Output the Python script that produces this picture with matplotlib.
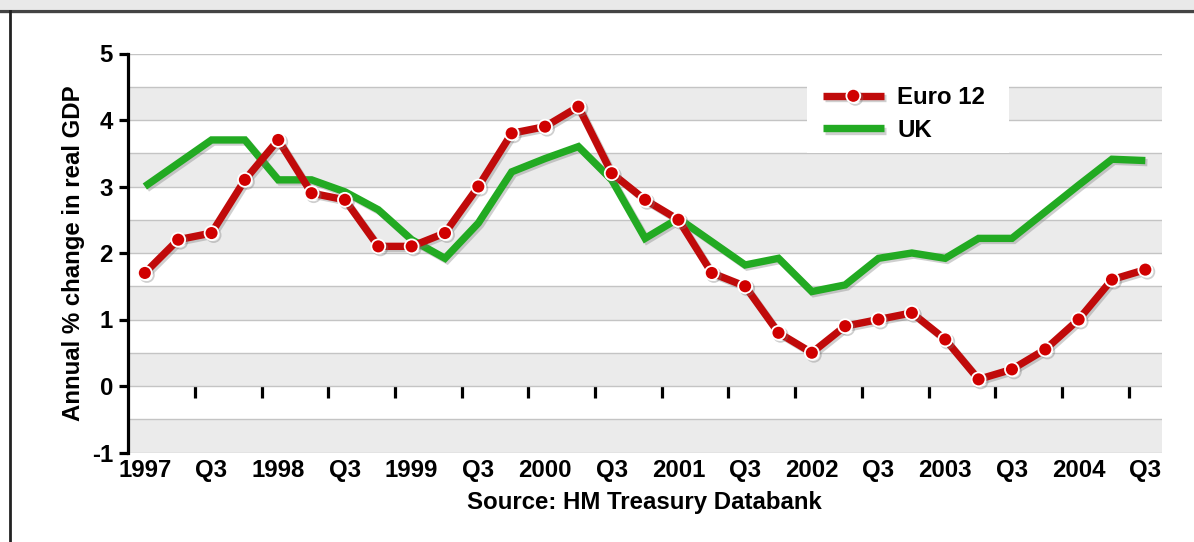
import numpy as np
import matplotlib
matplotlib.use("Agg")
import matplotlib.pyplot as plt
from matplotlib.patches import Rectangle
from matplotlib.lines import Line2D
import matplotlib.patheffects as pe

# ---------------- data ----------------
years = [1997, 1998, 1999, 2000, 2001, 2002, 2003, 2004]
periods = [f"{y} Q{q}" for y in years for q in (1, 2, 3, 4)][:31]   # 1997 Q1 .. 2004 Q3

euro12 = [1.7, 2.2, 2.3, 3.1,
          3.7, 2.9, 2.8, 2.1,
          2.1, 2.3, 3.0, 3.8,
          3.9, 4.2, 3.2, 2.8,
          2.5, 1.7, 1.5, 0.8,
          0.5, 0.9, 1.0, 1.1,
          0.7, 0.1, 0.25, 0.55,
          1.0, 1.6, 1.75]

uk = [3.0, 3.35, 3.7, 3.7,
      3.1, 3.1, 2.92, 2.65,
      2.2, 1.92, 2.45, 3.22,
      3.42, 3.6, 3.1, 2.22,
      2.52, 2.17, 1.82, 1.92,
      1.42, 1.52, 1.92, 2.0,
      1.92, 2.22, 2.22, 2.62,
      3.02, 3.41, 3.39]

tick_labels = ["1997", "Q3", "1998", "Q3", "1999", "Q3", "2000", "Q3",
               "2001", "Q3", "2002", "Q3", "2003", "Q3", "2004", "Q3"]

series_names = ["Euro 12", "UK"]

# ---------------- style ----------------
RED = "#c00a0a"
RED_MK = "#d00000"
GREEN = "#22aa22"
BAND = "#ebebeb"
GRID = "#c4c4c4"
FONT = "Liberation Sans"
FS = 17.3

plt.rcParams["font.family"] = [FONT, "DejaVu Sans"]
plt.rcParams["font.weight"] = "bold"
plt.rcParams["axes.unicode_minus"] = False

W, H = 1194, 542
fig = plt.figure(figsize=(W / 100, H / 100), dpi=100)
fig.patch.set_facecolor("white")

# axes placement (pixels -> figure fraction)
left_px, right_px, top_px, bot_px = 127.5, 1162, 53.5, 452.5
ax = fig.add_axes([left_px / W, 1 - bot_px / H, (right_px - left_px) / W, (bot_px - top_px) / H])

x = np.arange(len(periods))
ax.set_xlim(-0.52, len(periods) - 0.5)
ax.set_ylim(-1, 5)

# alternating horizontal bands
for lo in np.arange(-1, 5, 1.0):
    ax.axhspan(lo, lo + 0.5, facecolor=BAND, edgecolor="none", zorder=0)

ax.set_axisbelow(True)
ax.set_yticks(np.arange(-1, 6, 1))
ax.set_yticks(np.arange(-1, 5.01, 0.5), minor=True)
ax.grid(which="both", axis="y", color=GRID, lw=1.0)
ax.grid(which="both", axis="x", visible=False)

# legend background box
ax.add_patch(Rectangle((0.657, 0.751), 0.195, 0.21, transform=ax.transAxes,
                       facecolor="white", edgecolor="none", zorder=1))

shadow = [pe.SimpleLineShadow(offset=(1.5, -1.5), shadow_color="#777777", alpha=0.35),
          pe.Normal()]

ax.plot(x, uk, color=GREEN, lw=5.3, solid_joinstyle="miter", solid_capstyle="butt",
        zorder=3, label=series_names[1], path_effects=shadow)
ax.plot(x, euro12, color=RED, lw=5.3, solid_joinstyle="miter", solid_capstyle="butt",
        marker="o", markersize=10, markerfacecolor=RED_MK, markeredgecolor="white",
        markeredgewidth=1.3, zorder=4, label=series_names[0], path_effects=shadow)

# spines
for s in ("top", "right", "bottom"):
    ax.spines[s].set_visible(False)
ax.spines["left"].set_linewidth(2.3)
ax.spines["left"].set_color("black")

ax.tick_params(axis="y", which="major", direction="out", length=6.5, width=2.3,
               pad=4, labelsize=FS, colors="black")
ax.tick_params(axis="y", which="minor", length=0)
ax.set_xticks(x[::2])
ax.set_xticklabels(tick_labels)
ax.tick_params(axis="x", length=0, pad=5, labelsize=FS)
for t in ax.get_xticklabels() + ax.get_yticklabels():
    t.set_fontweight("bold")

# tick marks drawn along the zero line
sec = ax.secondary_xaxis((0 - (-1)) / (5 - (-1)))
sec.set_xticks(x[1:-1:2] + 0.5)
sec.set_xticklabels([])
sec.xaxis.set_ticks_position("bottom")
sec.tick_params(axis="x", direction="out", length=8.5, width=2.3, color="black")
for s in sec.spines.values():
    s.set_visible(False)

ax.set_ylabel("Annual % change in real GDP", fontsize=FS, fontweight="bold", labelpad=5)
ax.set_xlabel("Source: HM Treasury Databank", fontsize=FS, fontweight="bold", labelpad=6)

# legend
leg = ax.legend(handles=[ax.lines[1], ax.lines[0]], labels=series_names,
                loc="upper left", bbox_to_anchor=(0.672, 0.918), frameon=False,
                prop={"family": FONT, "weight": "bold", "size": FS},
                handlelength=2.55, handletextpad=0.55, labelspacing=0.4,
                numpoints=1, borderpad=0, borderaxespad=0)
leg.set_zorder(5)

# outer frame decorations
fig.patches.append(Rectangle((0, 1 - 9 / H), 1, 9 / H, transform=fig.transFigure,
                             facecolor="#e9e9e9", edgecolor="none", zorder=0))
fig.lines.append(Line2D([0, 1], [1 - 10.5 / H, 1 - 10.5 / H], transform=fig.transFigure,
                        color="#444444", lw=2.4))
fig.lines.append(Line2D([9.5 / W, 9.5 / W], [0, 1 - 10.5 / H], transform=fig.transFigure,
                        color="#222222", lw=2.0))

fig.savefig("out.png", dpi=100)
